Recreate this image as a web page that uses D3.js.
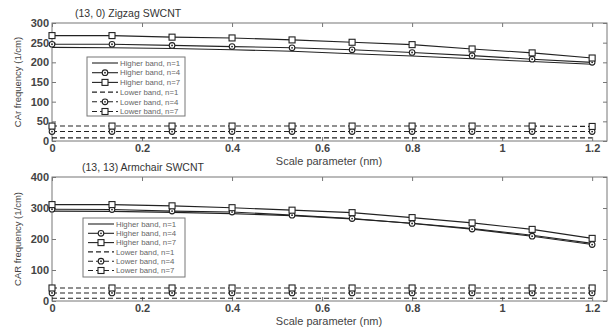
<!DOCTYPE html>
<html>
<head>
<meta charset="utf-8">
<script src="https://cdn.jsdelivr.net/npm/d3@7"></script>
<style>
  body { margin: 0; background: #fff; }
  svg { display: block; font-family: 'Liberation Sans', Arial, sans-serif; }
</style>
</head>
<body>
<svg id="chart" width="609" height="329"></svg>
<script>
// scale parameter (nm), 10 points
const scaleParam = [0, 0.1333, 0.2667, 0.4, 0.5333, 0.6667, 0.8, 0.9333, 1.0667, 1.2];
const xTicks = [0, 0.2, 0.4, 0.6, 0.8, 1, 1.2];

// (13, 0) zigzag
const zzHigh1 = [238, 237, 235, 232, 228, 222, 216, 209, 202, 195];
const zzHigh4 = [246, 246, 243, 240, 237, 232, 225, 217, 208, 200];
const zzHigh7 = [268, 268, 264, 262, 257, 251, 245, 234, 224, 211];
const zzLow1  = [8, 8, 8, 8, 8, 8, 8, 8, 8, 8];
const zzLow4  = [24, 24, 24, 24, 24, 24, 24, 24, 24, 24];
const zzLow7  = [38, 38, 38, 38, 38, 38, 38, 38, 38, 37];
const zzYTicks = [0, 50, 100, 150, 200, 250, 300];

// (13, 13) armchair
const acHigh1 = [290, 289, 286, 282, 275, 265, 251, 234, 212, 186];
const acHigh4 = [296, 295, 290, 287, 277, 266, 250, 232, 209, 182];
const acHigh7 = [311, 311, 307, 301, 293, 285, 269, 252, 231, 202];
const acLow1  = [9, 9, 9, 9, 9, 9, 9, 9, 9, 9];
const acLow4  = [26, 26, 26, 26, 26, 26, 26, 26, 26, 26];
const acLow7  = [42, 42, 42, 42, 42, 42, 42, 42, 42, 42];
const acYTicks = [0, 100, 200, 300, 400];

const legendLabels = ['Higher band, n=1', 'Higher band, n=4', 'Higher band, n=7',
                      'Lower band, n=1', 'Lower band, n=4', 'Lower band, n=7'];
const styles = [
  { dash: null, mark: null }, { dash: null, mark: 'circle' }, { dash: null, mark: 'square' },
  { dash: '5,3', mark: null }, { dash: '5,3', mark: 'circle' }, { dash: '5,3', mark: 'square' },
];

const INK = '#222';
const svg = d3.select('#chart');

function marker(g, type, x, y) {
  if (type === 'circle') {
    g.append('circle').attr('cx', x).attr('cy', y).attr('r', 2.8)
      .attr('fill', '#fff').attr('stroke', INK).attr('stroke-width', 1.1);
    g.append('circle').attr('cx', x).attr('cy', y).attr('r', 0.9).attr('fill', INK);
  } else if (type === 'square') {
    g.append('rect').attr('x', x - 3).attr('y', y - 3).attr('width', 6).attr('height', 6)
      .attr('fill', '#fff').attr('stroke', INK).attr('stroke-width', 1.1);
  }
}

function panel(opt) {
  const x = d3.scaleLinear().domain([0, 1.233]).range([52, 607]);
  const y = d3.scaleLinear().domain([0, opt.ymax]).range([opt.bottom, opt.top]);
  const g = svg.append('g');

  // frame
  g.append('rect').attr('x', 52).attr('y', opt.top).attr('width', 555).attr('height', opt.bottom - opt.top)
    .attr('fill', 'none').attr('stroke', '#777').attr('stroke-width', 1);

  // axes, matlab style: ticks inward on all four sides
  const ax = g.append('g').attr('transform', `translate(0,${opt.bottom})`)
    .call(d3.axisBottom(x).tickValues(xTicks).tickFormat(d3.format('')).tickSizeInner(-4).tickSizeOuter(0).tickPadding(3));
  const axTop = g.append('g').attr('transform', `translate(0,${opt.top})`)
    .call(d3.axisTop(x).tickValues(xTicks).tickFormat('').tickSizeInner(-4).tickSizeOuter(0));
  const ay = g.append('g').attr('transform', 'translate(52,0)')
    .call(d3.axisLeft(y).tickValues(opt.yTicks).tickSizeInner(-4).tickSizeOuter(0).tickPadding(3));
  const ayR = g.append('g').attr('transform', 'translate(607,0)')
    .call(d3.axisRight(y).tickValues(opt.yTicks).tickFormat('').tickSizeInner(-4).tickSizeOuter(0));
  [ax, axTop, ay, ayR].forEach(a => {
    a.select('.domain').remove();
    a.selectAll('line').attr('stroke', '#777');
    a.selectAll('text').attr('font-size', 11).attr('fill', '#444').attr('font-weight', 'bold');
  });

  // series
  const line = d3.line().x((d, i) => x(scaleParam[i])).y(d => y(d));
  opt.series.forEach((s, k) => {
    g.append('path').datum(s).attr('d', line).attr('fill', 'none')
      .attr('stroke', INK).attr('stroke-width', 1.1)
      .attr('stroke-dasharray', styles[k].dash);
    if (styles[k].mark) s.forEach((v, i) => marker(g, styles[k].mark, x(scaleParam[i]), y(v)));
  });

  // title & labels
  g.append('text').attr('x', opt.titleX).attr('y', opt.top - 6).text(opt.title)
    .attr('font-size', 10.5).attr('fill', '#333');
  g.append('text').attr('x', 329).attr('y', opt.bottom + 24).attr('text-anchor', 'middle')
    .text('Scale parameter (nm)').attr('font-size', 11).attr('fill', '#444');
  g.append('text').attr('transform', `translate(${opt.ylabX},${(opt.top + opt.bottom) / 2}) rotate(-90)`)
    .attr('text-anchor', 'middle').text(opt.ylabel).attr('font-size', 9.5).attr('fill', '#444');

  // legend
  const L = opt.legend;
  const lg = g.append('g');
  lg.append('rect').attr('x', L.x).attr('y', L.y).attr('width', L.w).attr('height', L.h)
    .attr('fill', '#fff').attr('stroke', '#777').attr('stroke-width', 1);
  legendLabels.forEach((lab, k) => {
    const ry = L.y + 6 + k * L.step;
    lg.append('line').attr('x1', L.x + 5).attr('x2', L.x + 31).attr('y1', ry).attr('y2', ry)
      .attr('stroke', INK).attr('stroke-width', 1.1).attr('stroke-dasharray', styles[k].dash);
    if (styles[k].mark) marker(lg, styles[k].mark, L.x + 18, ry);
    lg.append('text').attr('x', L.x + 33).attr('y', ry + 2.7).text(lab)
      .attr('font-size', 7.8).attr('fill', '#666');
  });
}

panel({
  top: 23, bottom: 141, ymax: 300, yTicks: zzYTicks,
  series: [zzHigh1, zzHigh4, zzHigh7, zzLow1, zzLow4, zzLow7],
  title: '(13, 0) Zigzag SWCNT', titleX: 75, ylabel: 'CAr frequency (1/cm)', ylabX: 21,
  legend: { x: 87, y: 57, w: 98, h: 59, step: 9.7 }
});
panel({
  top: 177, bottom: 301, ymax: 400, yTicks: acYTicks,
  series: [acHigh1, acHigh4, acHigh7, acLow1, acLow4, acLow7],
  title: '(13, 13) Armchair SWCNT', titleX: 82, ylabel: 'CAR frequency (1/cm)', ylabX: 21,
  legend: { x: 83, y: 218, w: 102, h: 59, step: 9.3 }
});
</script>
</body>
</html>
